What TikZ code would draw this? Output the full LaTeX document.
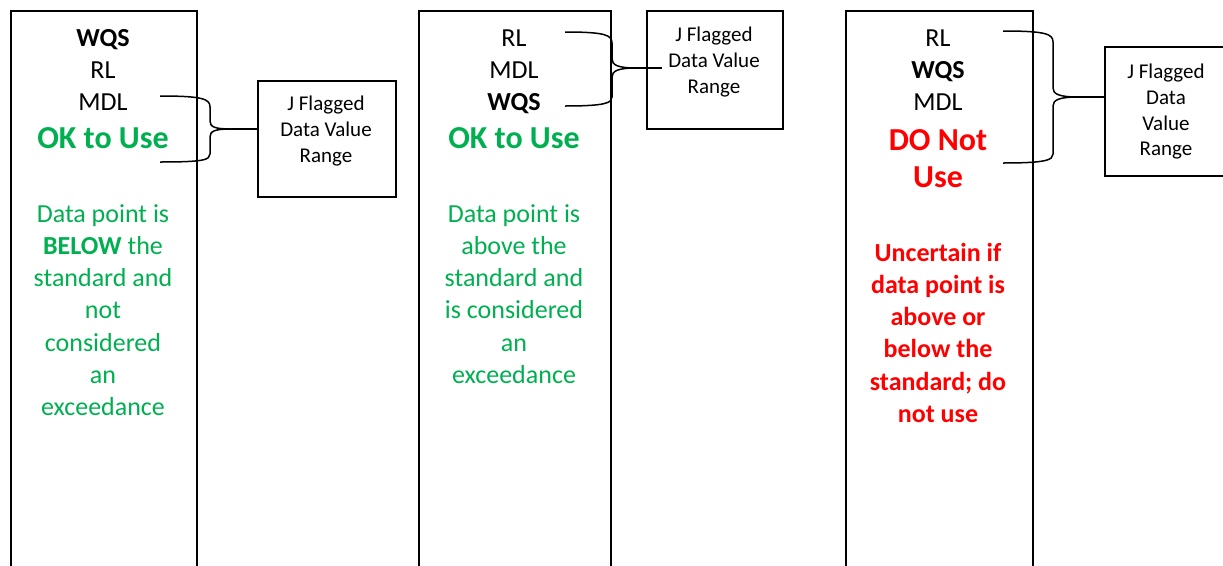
\documentclass[tikz,border=0pt]{standalone}
\usepackage{fontspec}
\setmainfont{Carlito}
\definecolor{okgreen}{HTML}{00B050}
\definecolor{nored}{HTML}{FF0000}
\begin{document}
\begin{tikzpicture}[x=1pt,y=-1pt,
  colbox/.style={draw,line width=1.6pt,inner sep=0pt,anchor=north west},
  sidebox/.style={draw,line width=1.5pt,inner sep=0pt,anchor=north west},
  lbl/.style={anchor=base,align=center,inner sep=0pt,font=\fontsize{26}{32.3}\selectfont},
  big/.style={anchor=base,align=center,inner sep=0pt,font=\fontsize{32}{37.7}\selectfont\bfseries},
  small/.style={anchor=base,align=center,inner sep=0pt,font=\fontsize{21}{25.8}\selectfont},
  brace/.style={line width=1.5pt}]
\clip (0,0) rectangle (1223,565);
\fill[white] (0,0) rectangle (1223,565);

% tall columns
\node[colbox,minimum width=186pt,minimum height=600pt] (col1) at (10,10) {};
\node[colbox,minimum width=192pt,minimum height=600pt] (col2) at (418,10) {};
\node[colbox,minimum width=187pt,minimum height=600pt] (col3) at (845,10) {};

% side boxes
\node[sidebox,minimum width=138pt,minimum height=116pt] (box1) at (257,80) {};
\node[sidebox,minimum width=136pt,minimum height=118pt] (box2) at (646,10) {};
\node[sidebox,minimum width=130pt,minimum height=129pt] (box3) at (1104,46) {};

% side box texts (anchored at baseline of last line)
\node[small] (t1) at (326,162.1) {J Flagged\\Data Value\\Range};
\node[small] (t2) at (714,93.1) {J Flagged\\Data Value\\Range};
\node[small] (t3) at (1166,155.9) {J Flagged\\Data\\Value\\Range};

% column 1
\node[lbl] (a1) at (103,110.6) {\textbf{WQS}\\RL\\MDL};
\node[big,text=okgreen] (a2) at (103,148) {OK to Use};
\node[lbl,text=okgreen] (a3) at (103,415.8) {Data point is\\\textbf{BELOW} the\\standard and\\not\\considered\\an\\exceedance};

% column 2
\node[lbl] (b1) at (514,110.6) {RL\\MDL\\\textbf{WQS}};
\node[big,text=okgreen] (b2) at (514,148) {OK to Use};
\node[lbl,text=okgreen] (b3) at (514,383.5) {Data point is\\above the\\standard and\\is considered\\an\\exceedance};

% column 3
\node[lbl] (c1) at (938,110.6) {RL\\\textbf{WQS}\\MDL};
\node[big,text=nored] (c2) at (938,187.7) {DO Not\\Use};
\node[lbl,text=nored,font=\fontsize{26}{32.3}\selectfont\bfseries] (c3) at (938,422.5) {Uncertain if\\data point is\\above or\\below the\\standard; do\\not use};

% braces
\coordinate (p1) at (231,129);
\draw[brace] (160,96) .. controls (203,96) and (210,99) .. (210,107) -- (210,121)
  .. controls (210,127) and (215,129) .. (p1)
  .. controls (215,129) and (210,131) .. (210,137) -- (210,154)
  .. controls (210,160) and (203,162) .. (160,162);
\draw[brace] (p1) -- (box1.west |- p1);

\coordinate (p2) at (636,68);
\draw[brace] (565,32) .. controls (605,32) and (612,35) .. (612,43) -- (612,59)
  .. controls (612,65) and (618,68) .. (p2)
  .. controls (618,68) and (612,71) .. (612,77) -- (612,97)
  .. controls (612,103) and (605,106) .. (565,106);
\draw[brace] (p2) -- ([xshift=16pt]box2.west |- p2);

\coordinate (p3) at (1078,97);
\draw[brace] (1003,31) .. controls (1046,31) and (1053,34) .. (1053,42) -- (1053,88)
  .. controls (1053,94) and (1059,97) .. (p3)
  .. controls (1059,97) and (1053,100) .. (1053,106) -- (1053,154)
  .. controls (1053,160) and (1046,163) .. (1003,163);
\draw[brace] (p3) -- (box3.west |- p3);
\end{tikzpicture}
\end{document}
